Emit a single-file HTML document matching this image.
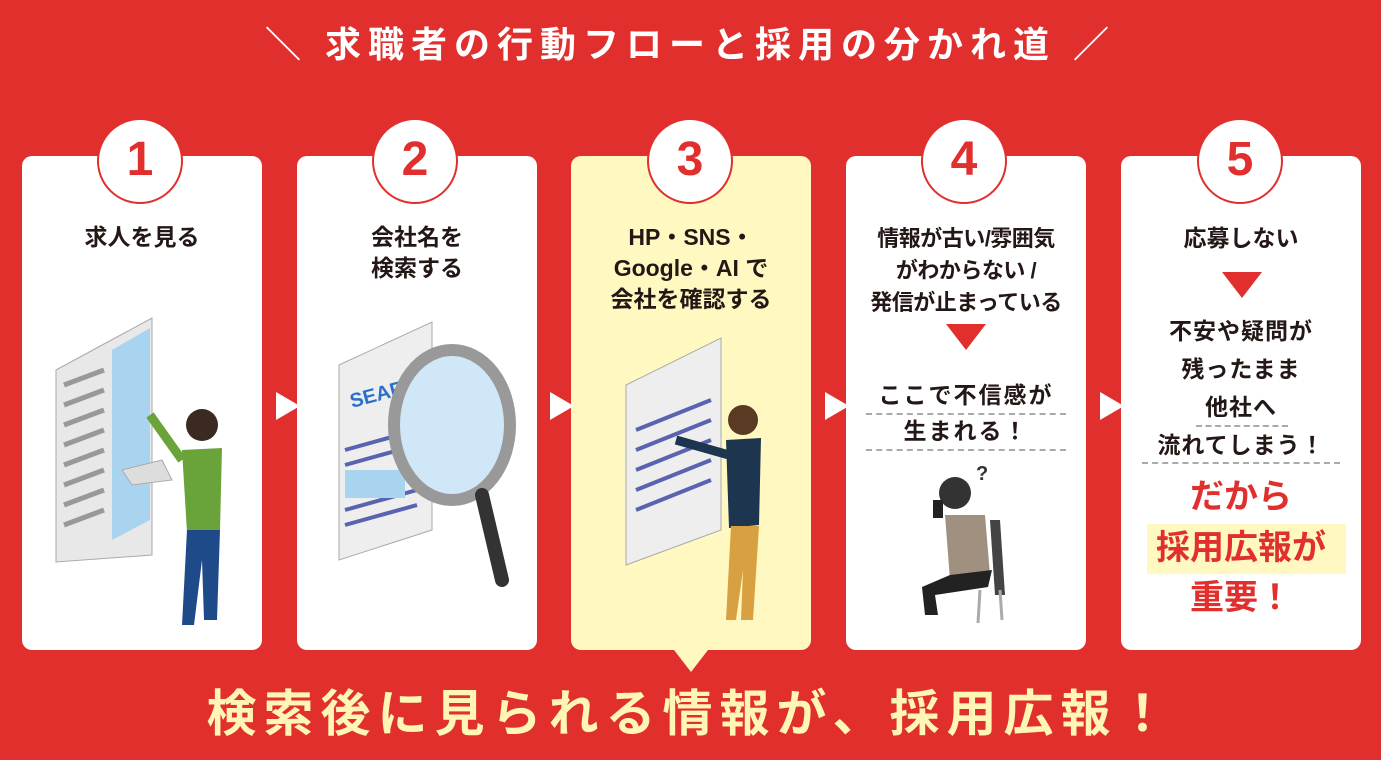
<!DOCTYPE html>
<html><head><meta charset="utf-8"><style>
*{margin:0;padding:0;box-sizing:border-box}
body{width:1381px;height:760px;background:#e02f2d;position:relative;overflow:hidden;font-family:"Liberation Sans","Noto Sans CJK JP",sans-serif;font-weight:bold;color:#231815}
.abs{position:absolute}
.card{position:absolute;top:156px;width:240px;height:494px;background:#fff;border-radius:10px}
.circ{position:absolute;top:118px;width:86px;height:86px;border-radius:50%;background:#fff;border:2px solid #e02f2d;color:#e02f2d;font-size:48px;text-align:center;line-height:80px;font-family:"Liberation Sans",sans-serif;font-weight:bold}
.t{position:absolute;text-align:center;font-size:23px;line-height:31px;width:240px}
.arr{position:absolute;top:392px;width:0;height:0;border-top:14px solid transparent;border-bottom:14px solid transparent;border-left:24px solid #fff}
.tri{position:absolute;width:0;height:0;border-left:20px solid transparent;border-right:20px solid transparent;border-top:26px solid #e02f2d}
.dash{position:absolute;border-top:2px dashed #aaa;height:0}
</style></head><body>
<div class="abs" style="left:0;top:21px;width:1381px;text-align:center;color:#fff;font-size:36px;letter-spacing:7px;line-height:48px">＼ 求職者の行動フローと採用の分かれ道 ／</div>

<div class="card" style="left:22px"></div>
<div class="card" style="left:297px"></div>
<div class="card" style="left:571px;background:#fff8c1"></div>
<div class="abs" style="left:674px;top:650px;width:0;height:0;border-left:17px solid transparent;border-right:17px solid transparent;border-top:22px solid #fff8c1"></div>
<div class="card" style="left:846px"></div>
<div class="card" style="left:1121px"></div>

<div class="circ" style="left:97px">1</div>
<div class="circ" style="left:372px">2</div>
<div class="circ" style="left:647px">3</div>
<div class="circ" style="left:921px">4</div>
<div class="circ" style="left:1197px">5</div>

<div class="arr" style="left:276px"></div>
<div class="arr" style="left:550px"></div>
<div class="arr" style="left:825px"></div>
<div class="arr" style="left:1100px"></div>

<div class="t" style="left:22px;top:222px">求人を見る</div>
<div class="t" style="left:297px;top:222px">会社名を<br>検索する</div>
<div class="t" style="left:571px;top:222px">HP・SNS・<br>Google・AI で<br>会社を確認する</div>
<div class="t" style="left:846px;top:223px;font-size:22px;line-height:32px;letter-spacing:-0.5px">情報が古い/雰囲気<br>がわからない /<br>発信が止まっている</div>
<div class="tri" style="left:946px;top:324px"></div>
<div class="t" style="left:846px;top:377px;line-height:36px;letter-spacing:2px">ここで不信感が<br>生まれる！</div>
<div class="dash" style="left:866px;top:413px;width:200px"></div>
<div class="dash" style="left:866px;top:449px;width:200px"></div>

<div class="t" style="left:1121px;top:223px">応募しない</div>
<div class="tri" style="left:1222px;top:272px"></div>
<div class="t" style="left:1121px;top:312px;line-height:38px;letter-spacing:1px">不安や疑問が<br>残ったまま<br>他社へ<br>流れてしまう！</div>
<div class="dash" style="left:1196px;top:425px;width:92px"></div>
<div class="dash" style="left:1142px;top:462px;width:198px"></div>
<div class="abs" style="left:1147px;top:524px;width:199px;height:50px;background:#fff8c1"></div>
<div class="t" style="left:1121px;top:476px;color:#e02f2d;font-size:34px;line-height:42px">だから</div>
<div class="t" style="left:1121px;top:527px;color:#e02f2d;font-size:34px;line-height:42px">採用広報が</div>
<div class="t" style="left:1121px;top:577px;color:#e02f2d;font-size:34px;line-height:42px">重要！</div>

<!-- illustrations -->
<svg class="abs" style="left:22px;top:300px" width="240" height="350">
<polygon points="34,70 130,18 130,255 34,262" fill="#e8e8e8" stroke="#aaa"/>
<polygon points="90,50 128,28 128,220 90,240" fill="#a9d4f0"/>
<g stroke="#999" stroke-width="5"><line x1="42" y1="85" x2="82" y2="70"/><line x1="42" y1="105" x2="82" y2="90"/><line x1="42" y1="125" x2="82" y2="110"/><line x1="42" y1="145" x2="82" y2="130"/><line x1="42" y1="165" x2="82" y2="150"/><line x1="42" y1="185" x2="82" y2="170"/><line x1="42" y1="205" x2="82" y2="190"/><line x1="42" y1="225" x2="82" y2="210"/></g>
<circle cx="180" cy="125" r="16" fill="#3a2a22"/>
<path d="M160,150 L200,148 L198,230 L165,232Z" fill="#6aa33a"/>
<path d="M165,230 L198,230 L195,320 L182,320 L180,260 L172,325 L160,325Z" fill="#1f4a8a"/>
<path d="M160,160 L128,115" stroke="#6aa33a" stroke-width="9"/>
<polygon points="100,170 140,160 150,180 110,185" fill="#ddd" stroke="#aaa"/>
</svg>
<svg class="abs" style="left:297px;top:310px" width="240" height="290">
<polygon points="42,55 135,12 135,220 42,250" fill="#eee" stroke="#aaa"/>
<text x="55" y="98" font-size="20" font-weight="bold" fill="#2a6fc9" font-family="Liberation Sans" transform="rotate(-15 55 98)">SEARCH</text>
<g stroke="#5a63b0" stroke-width="4"><line x1="48" y1="140" x2="120" y2="120"/><line x1="48" y1="155" x2="120" y2="135"/><line x1="48" y1="200" x2="120" y2="180"/><line x1="48" y1="215" x2="120" y2="195"/></g>
<rect x="48" y="160" width="60" height="28" fill="#a9d4f0"/>
<ellipse cx="155" cy="115" rx="58" ry="75" fill="#cfe7f7" stroke="#999" stroke-width="12"/>
<line x1="185" y1="185" x2="205" y2="270" stroke="#333" stroke-width="14" stroke-linecap="round"/>
</svg>
<svg class="abs" style="left:571px;top:330px" width="240" height="300">
<polygon points="55,55 150,8 150,200 55,235" fill="#eee" stroke="#aaa"/>
<g stroke="#5a63b0" stroke-width="4"><line x1="65" y1="100" x2="140" y2="70"/><line x1="65" y1="120" x2="140" y2="90"/><line x1="65" y1="140" x2="140" y2="110"/><line x1="65" y1="160" x2="140" y2="130"/><line x1="65" y1="180" x2="140" y2="150"/></g>
<circle cx="172" cy="90" r="15" fill="#5a3a22"/>
<path d="M155,110 L190,108 L188,195 L158,198Z" fill="#1e3550"/>
<path d="M160,196 L188,196 L182,290 L170,290 L172,240 L165,290 L155,290Z" fill="#d8a040"/>
<path d="M158,125 L105,110" stroke="#1e3550" stroke-width="9"/>
</svg>
<svg class="abs" style="left:900px;top:455px" width="140" height="180">
<text x="76" y="25" font-size="20" fill="#333" font-family="Liberation Sans">?</text>
<circle cx="55" cy="38" r="16" fill="#333"/>
<path d="M45,60 L85,60 L90,120 L50,125Z" fill="#a09080"/>
<path d="M90,65 L100,65 L105,140 L95,140Z" fill="#444"/>
<path d="M50,120 L92,115 L88,132 L35,140 L38,160 L25,160 L22,132Z" fill="#222"/>
<rect x="33" y="45" width="10" height="18" fill="#222"/>
<line x1="80" y1="135" x2="78" y2="168" stroke="#aaa" stroke-width="3"/><line x1="100" y1="135" x2="102" y2="165" stroke="#aaa" stroke-width="3"/>
</svg>

<div class="abs" style="left:0;top:683px;width:1381px;text-align:center;color:#fff5b5;font-size:50px;letter-spacing:7px;line-height:62px">検索後に見られる情報が、採用広報！</div>
</body></html>
